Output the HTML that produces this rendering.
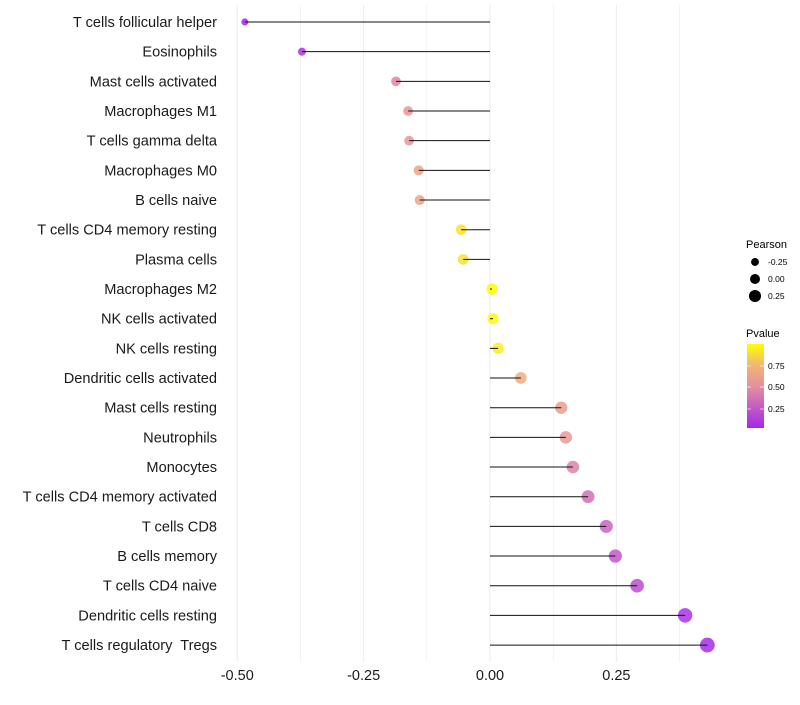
<!DOCTYPE html>
<html><head><meta charset="utf-8"><style>body{margin:0;background:#fff}svg{font-family:"Liberation Sans",sans-serif}text{white-space:pre}</style></head>
<body>
<svg id="c" width="800" height="700"></svg>
<script>
const categories=["T cells follicular helper","Eosinophils","Mast cells activated","Macrophages M1","T cells gamma delta","Macrophages M0","B cells naive","T cells CD4 memory resting","Plasma cells","Macrophages M2","NK cells activated","NK cells resting","Dendritic cells activated","Mast cells resting","Neutrophils","Monocytes","T cells CD4 memory activated","T cells CD8","B cells memory","T cells CD4 naive","Dendritic cells resting","T cells regulatory  Tregs"];
const pearson=[-0.485,-0.372,-0.186,-0.162,-0.160,-0.141,-0.139,-0.057,-0.053,0.004,0.006,0.016,0.061,0.141,0.150,0.164,0.194,0.230,0.248,0.291,0.386,0.430];
const pvalue=[0.03,0.08,0.45,0.55,0.55,0.65,0.65,0.9,0.9,0.99,0.98,0.95,0.7,0.6,0.57,0.45,0.35,0.3,0.25,0.2,0.08,0.05];
const xTicks=[-0.5,-0.25,0,0.25];
const xTickLabels=["-0.50","-0.25","0.00","0.25"];
const xMinor=[-0.375,-0.125,0.125,0.375];
const NS="http://www.w3.org/2000/svg",svg=document.getElementById('c');
const X=v=>490+v*505.5, Y=i=>22+i*29.67;
function mk(t,a,p){const e=document.createElementNS(NS,t);for(const k in a)e.setAttribute(k,a[k]);(p||svg).appendChild(e);return e;}
function lerp(a,b,t){return a.map((x,i)=>Math.round(x+(b[i]-x)*t));}
function col(p){const s=[[0,[160,32,240]],[0.5,[228,143,160]],[0.75,[240,180,120]],[1,[255,255,0]]];for(let i=1;i<s.length;i++){if(p<=s[i][0]){const t=(p-s[i-1][0])/(s[i][0]-s[i-1][0]);const c=lerp(s[i-1][1],s[i][1],t);return `rgb(${c})`;}}return 'rgb(255,255,0)';}
const R=v=>Math.max(1.8,5.6+4.2*v);
xMinor.concat(xTicks).forEach(v=>{const g=mk('line',{x1:X(v),x2:X(v),y1:5,y2:662,stroke:'#ebebeb','stroke-width':xTicks.includes(v)?1:0.6});});
xTicks.forEach((v,i)=>{const t=mk('text',{x:X(v),y:680,'font-size':14.5,'text-anchor':'middle',fill:'#1a1a1a'});t.textContent=xTickLabels[i];});
categories.forEach((c,i)=>{const t=mk('text',{x:217,y:Y(i)+5,'font-size':14.6,'text-anchor':'end',fill:'#1a1a1a'});t.textContent=c;
const d=mk('circle',{cx:X(pearson[i]),cy:Y(i),r:R(pearson[i]),fill:col(pvalue[i]),'fill-opacity':0.85});
const l=mk('line',{x1:X(pearson[i]),x2:X(0),y1:Y(i),y2:Y(i),stroke:'#111','stroke-width':1});});
const lt=mk('text',{x:746,y:248,'font-size':11});lt.textContent='Pearson';
[-0.25,0,0.25].forEach((v,i)=>{const cy=262+i*17;const c=mk('circle',{cx:755,cy:cy,r:R(v)-0.6,fill:'#000'});const t=mk('text',{x:768,y:cy+3,'font-size':8.5});t.textContent=['-0.25','0.00','0.25'][i];});
const pt=mk('text',{x:746,y:337,'font-size':11});pt.textContent='Pvalue';
const defs=mk('defs',{});const gr=mk('linearGradient',{id:'g',x1:0,y1:1,x2:0,y2:0},defs);
[0,0.25,0.5,0.75,1].forEach(o=>mk('stop',{offset:o,'stop-color':col(0.03+o*0.97)},gr));
const cb=mk('rect',{x:747,y:344,width:17,height:84,fill:'url(#g)'});
[[0.75,366],[0.5,387],[0.25,409]].forEach(([v,y])=>{mk('line',{x1:747,x2:751,y1:y,y2:y,stroke:'#fff','stroke-opacity':0.6});mk('line',{x1:760,x2:764,y1:y,y2:y,stroke:'#fff','stroke-opacity':0.6});const t=mk('text',{x:768,y:y+3,'font-size':8.5});t.textContent=v.toFixed(2);});
</script>
</body></html>
